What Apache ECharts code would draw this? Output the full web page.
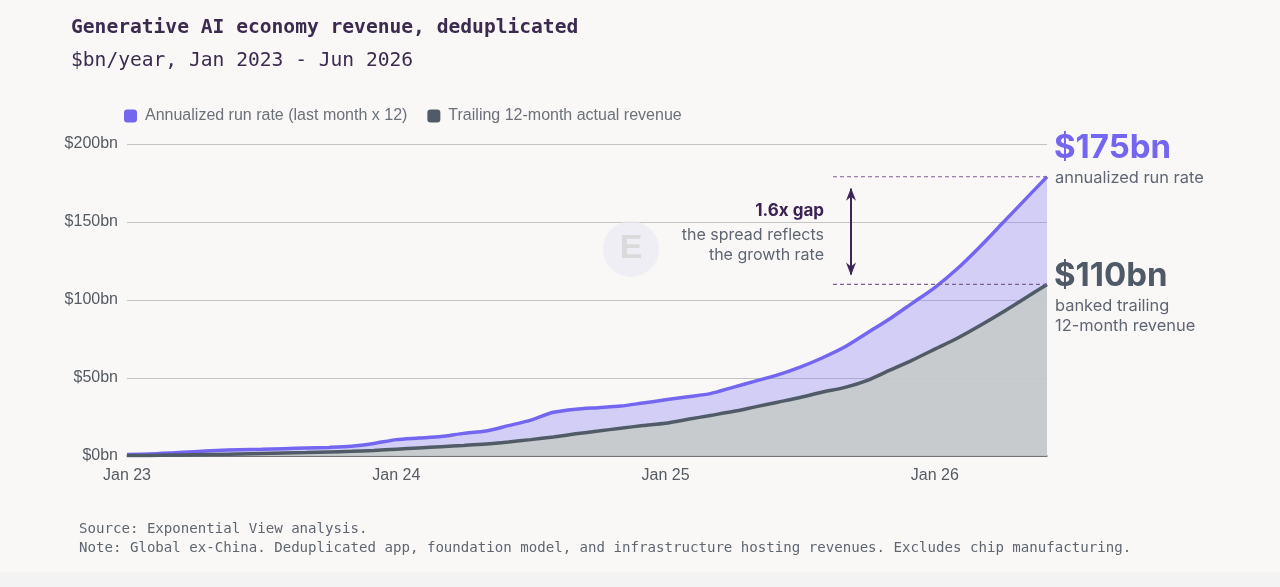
<!DOCTYPE html>
<html>
<head>
<meta charset="utf-8">
<title>Generative AI economy revenue</title>
<script src="https://cdn.jsdelivr.net/npm/echarts@6/dist/echarts.min.js"></script>
<style>
  html, body { margin: 0; padding: 0; background: #f9f8f7; }
  #chart { width: 1280px; height: 587px; }
</style>
</head>
<body>
<div id="chart"></div>
<script>
// months Jan 2023 .. Jun 2026
var months = [
    'Jan 23', 'Feb 23', 'Mar 23', 'Apr 23', 'May 23', 'Jun 23', 'Jul 23', 'Aug 23', 'Sep 23', 'Oct 23', 'Nov 23', 'Dec 23',
    'Jan 24', 'Feb 24', 'Mar 24', 'Apr 24', 'May 24', 'Jun 24', 'Jul 24', 'Aug 24', 'Sep 24', 'Oct 24', 'Nov 24', 'Dec 24',
    'Jan 25', 'Feb 25', 'Mar 25', 'Apr 25', 'May 25', 'Jun 25', 'Jul 25', 'Aug 25', 'Sep 25', 'Oct 25', 'Nov 25', 'Dec 25',
    'Jan 26', 'Feb 26', 'Mar 26', 'Apr 26', 'May 26', 'Jun 26'
];

// $bn/year
var runRate = [
    1, 1.3, 2, 2.8, 3.5, 4, 4.3, 4.7, 5.1, 5.5, 6.2, 8,
    10.5, 11.5, 12.5, 14.5, 16, 19.5, 23, 28, 30, 31, 32, 34,
    36, 38, 40, 44, 48, 52, 57, 63, 70, 79, 88, 98,
    108, 120, 134, 149, 164, 179
];
var trailing = [
    0.3, 0.4, 0.6, 0.8, 1, 1.3, 1.6, 1.9, 2.2, 2.6, 3, 3.6,
    4.4, 5.2, 6, 6.8, 7.7, 9, 10.5, 12.2, 14.2, 16, 17.8, 19.5,
    21, 23.5, 26, 28.5, 31.5, 34.5, 37.5, 41, 44, 48.5, 55, 61.5,
    68.5, 75.5, 83.5, 92, 101, 110
];

var seriesNames = ['Annualized run rate (last month x 12)', 'Trailing 12-month actual revenue'];
var yTicks = [0, 50, 100, 150, 200];

var purple = '#7466f0';
var slate = '#505b67';
var sansFont = '"Liberation Sans", Arial, sans-serif';
var roundFont = 'Inter, "Noto Sans", sans-serif';
var monoFont = '"DejaVu Sans Mono", "Liberation Mono", monospace';

var chart = echarts.init(document.getElementById('chart'));

var option = {
    backgroundColor: '#f9f8f7',
    animation: false,
    title: [
        {
            text: 'Generative AI economy revenue, deduplicated',
            left: 66,
            top: 13,
            textStyle: { fontFamily: monoFont, fontSize: 19.6, fontWeight: 'bold', color: '#3d2b4f' }
        },
        {
            text: '$bn/year, Jan 2023 - Jun 2026',
            left: 66,
            top: 46,
            textStyle: { fontFamily: monoFont, fontSize: 19.6, fontWeight: 'normal', color: '#3d2b4f' }
        }
    ],
    legend: {
        left: 119,
        top: 103,
        icon: 'roundRect',
        itemWidth: 13,
        itemHeight: 13,
        itemGap: 20,
        textStyle: { fontFamily: sansFont, fontSize: 16, color: '#6b7079', padding: [0, 0, 0, 3] },
        data: [
            { name: seriesNames[0], itemStyle: { color: purple } },
            { name: seriesNames[1], itemStyle: { color: slate } }
        ]
    },
    grid: { left: 127, right: 233, top: 144, bottom: 131 },
    xAxis: {
        type: 'category',
        data: months,
        boundaryGap: false,
        axisLine: { lineStyle: { color: '#555a60', width: 1.5 } },
        axisTick: { show: false },
        axisLabel: {
            interval: function (index) { return index % 12 === 0; },
            fontFamily: sansFont,
            fontSize: 16,
            color: '#555b63',
            margin: 12
        }
    },
    yAxis: {
        type: 'value',
        min: yTicks[0],
        max: yTicks[yTicks.length - 1],
        interval: 50,
        axisLine: { show: false },
        axisTick: { show: false },
        axisLabel: {
            formatter: '${value}bn',
            fontFamily: sansFont,
            fontSize: 16,
            color: '#555b63',
            margin: 9
        },
        splitLine: { lineStyle: { color: '#c4c4c4', width: 1.2 } }
    },
    series: [
        {
            name: seriesNames[0],
            type: 'line',
            data: runRate,
            smooth: 0.25,
            symbol: 'none',
            lineStyle: { color: purple, width: 3.5 },
            itemStyle: { color: purple },
            areaStyle: { color: '#7b6ef6', opacity: 0.3 },
            z: 3
        },
        {
            name: seriesNames[1],
            type: 'line',
            data: trailing,
            smooth: 0.25,
            symbol: 'none',
            lineStyle: { color: slate, width: 3.5 },
            itemStyle: { color: slate },
            areaStyle: { color: '#c7cbc9', opacity: 0.9 },
            z: 4
        }
    ]
};

chart.setOption(option);

// annotation positions from the last data points
var last = months.length - 1;
var pTop = chart.convertToPixel({ seriesIndex: 0 }, [last, runRate[last]]);
var pBot = chart.convertToPixel({ seriesIndex: 1 }, [last, trailing[last]]);
var dashStart = 833;
var arrowX = 851;
var dashColor = '#7d5f98';
var arrowColor = '#3d2459';

chart.setOption({
    graphic: [
        // watermark
        {
            type: 'circle', shape: { cx: 631, cy: 249, r: 28 },
            style: { fill: '#ebeaf3', opacity: 0.7 }, silent: true, z: 1
        },
        {
            type: 'text', x: 631, y: 249, z: 1,
            style: { text: 'E', fill: '#dadada', font: 'bold 34px ' + sansFont, align: 'center', verticalAlign: 'middle' }
        },
        // dashed guides
        {
            type: 'line', z: 10,
            shape: { x1: dashStart, y1: pTop[1], x2: pTop[0], y2: pTop[1] },
            style: { stroke: dashColor, lineWidth: 1.2, lineDash: [4, 3] }
        },
        {
            type: 'line', z: 10,
            shape: { x1: dashStart, y1: pBot[1], x2: pBot[0], y2: pBot[1] },
            style: { stroke: dashColor, lineWidth: 1.2, lineDash: [4, 3] }
        },
        // double arrow
        {
            type: 'line', z: 10,
            shape: { x1: arrowX, y1: pTop[1] + 12, x2: arrowX, y2: pBot[1] - 10 },
            style: { stroke: arrowColor, lineWidth: 2 }
        },
        {
            type: 'polygon', z: 10,
            shape: { points: [[arrowX - 5, pTop[1] + 24], [arrowX, pTop[1] + 11], [arrowX + 5, pTop[1] + 24], [arrowX, pTop[1] + 20]] },
            style: { fill: arrowColor }
        },
        {
            type: 'polygon', z: 10,
            shape: { points: [[arrowX - 5, pBot[1] - 22], [arrowX, pBot[1] - 9], [arrowX + 5, pBot[1] - 22], [arrowX, pBot[1] - 18]] },
            style: { fill: arrowColor }
        },
        // gap text
        {
            type: 'text', x: 824, y: 211, z: 10,
            style: { text: '1.6x gap', fill: '#3b2252', font: 'bold 17px ' + roundFont, align: 'right', verticalAlign: 'middle' }
        },
        {
            type: 'text', x: 824, y: 235, z: 10,
            style: { text: 'the spread reflects', fill: '#5f6672', font: '16px ' + roundFont, align: 'right', verticalAlign: 'middle' }
        },
        {
            type: 'text', x: 824, y: 255, z: 10,
            style: { text: 'the growth rate', fill: '#5f6672', font: '16px ' + roundFont, align: 'right', verticalAlign: 'middle' }
        },
        // right-side labels
        {
            type: 'text', x: 1054, y: 148, z: 10,
            style: { text: '$175bn', fill: '#7466f0', font: 'bold 33px ' + roundFont, align: 'left', verticalAlign: 'middle' }
        },
        {
            type: 'text', x: 1055, y: 178, z: 10,
            style: { text: 'annualized run rate', fill: '#5f6672', font: '16.4px ' + roundFont, align: 'left', verticalAlign: 'middle' }
        },
        {
            type: 'text', x: 1054, y: 276, z: 10,
            style: { text: '$110bn', fill: '#4f5a66', font: 'bold 33px ' + roundFont, align: 'left', verticalAlign: 'middle' }
        },
        {
            type: 'text', x: 1055, y: 306, z: 10,
            style: { text: 'banked trailing', fill: '#5f6672', font: '16.4px ' + roundFont, align: 'left', verticalAlign: 'middle' }
        },
        {
            type: 'text', x: 1055, y: 326, z: 10,
            style: { text: '12-month revenue', fill: '#5f6672', font: '16.4px ' + roundFont, align: 'left', verticalAlign: 'middle' }
        },
        // footer
        {
            type: 'text', x: 79, y: 529, z: 10,
            style: { text: 'Source: Exponential View analysis.', fill: '#5f6670', font: '14.1px ' + monoFont, verticalAlign: 'middle' }
        },
        {
            type: 'text', x: 79, y: 548, z: 10,
            style: { text: 'Note: Global ex-China. Deduplicated app, foundation model, and infrastructure hosting revenues. Excludes chip manufacturing.', fill: '#5f6670', font: '14.1px ' + monoFont, verticalAlign: 'middle' }
        },
        {
            type: 'rect', z: 0, silent: true,
            shape: { x: 0, y: 572, width: 1280, height: 15 },
            style: { fill: '#f3f3f4' }
        }
    ]
});
</script>
</body>
</html>
